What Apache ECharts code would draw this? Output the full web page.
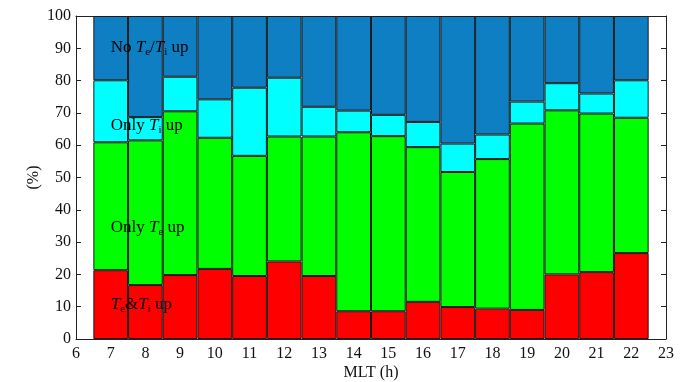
<!DOCTYPE html>
<html><head><meta charset="utf-8">
<script src="https://cdn.jsdelivr.net/npm/echarts@6/dist/echarts.min.js"></script>
<style>html,body{margin:0;padding:0;background:#fff}#c{width:691px;height:382px}</style>
</head><body><div id="c"></div>
<script>
var xTicks = ['6','7','8','9','10','11','12','13','14','15','16','17','18','19','20','21','22','23'];
var mlt = [7,8,9,10,11,12,13,14,15,16,17,18,19,20,21,22];
var bothUp  = [21.3,16.7,19.8,21.7,19.5,24.0,19.5,8.6,8.6,11.5,9.9,9.4,9.0,20.0,20.7,26.6];
var onlyTe  = [39.6,44.8,50.7,40.6,37.2,38.7,43.2,55.4,54.2,47.9,41.8,46.3,57.7,50.8,49.1,41.9];
var onlyTi  = [19.2,7.2,10.7,11.9,21.1,18.2,9.2,6.7,6.6,7.8,8.8,7.6,6.8,8.4,6.2,11.6];
var noneUp  = [19.9,31.3,18.8,25.8,22.2,19.1,28.1,29.3,30.6,32.8,39.5,36.7,26.5,20.8,24.0,19.9];

var FONT = '"Liberation Serif","Times New Roman",serif';
var chart = echarts.init(document.getElementById('c'), null, {renderer:'canvas'});
var gridL = 76, gridR = 25, gridT = 16, gridB = 43;
var unitW = (691 - gridL - gridR) / (xTicks.length - 1);

function mk(name, arr, color){
  var data = xTicks.map(function(t){
    var i = mlt.indexOf(Number(t));
    return i >= 0 ? arr[i] : '-';
  });
  return {
    name: name, type: 'bar', stack: 'all', barWidth: unitW,
    data: data,
    itemStyle: {color: color, borderColor: '#1a1a1a', borderWidth: 1},
    emphasis: {disabled: true}, animation: false
  };
}
var axisLbl = {fontFamily: FONT, fontSize: 16, color: '#111'};
chart.setOption({
  animation: false,
  grid: {left: gridL, right: gridR, top: gridT, bottom: gridB, containLabel: false, outerBoundsMode: 'none'},
  xAxis: [{
    type: 'category', data: xTicks, boundaryGap: false, position: 'bottom',
    axisLine: {show: true, onZero: false, lineStyle: {color: '#222'}},
    axisTick: {show: true, inside: true, length: 5, alignWithLabel: true, lineStyle: {color: '#222'}},
    axisLabel: Object.assign({margin: 7, interval: 0}, axisLbl),
    splitLine: {show: false},
    name: 'MLT (h)', nameLocation: 'middle', nameGap: 26, nameMoveOverlap: false,
    nameTextStyle: {fontFamily: FONT, fontSize: 16, color: '#111'}
  },{
    type: 'category', data: xTicks, boundaryGap: false, position: 'top',
    axisLine: {show: true, onZero: false, lineStyle: {color: '#222'}},
    axisTick: {show: false}, axisLabel: {show: false}, splitLine: {show: false}
  }],
  yAxis: [{
    type: 'value', min: 0, max: 100, interval: 10, position: 'left',
    axisLine: {show: true, onZero: false, lineStyle: {color: '#222'}},
    axisTick: {show: true, inside: true, length: 5, lineStyle: {color: '#222'}},
    axisLabel: Object.assign({margin: 5}, axisLbl),
    splitLine: {show: false},
    name: '(%)', nameLocation: 'middle', nameGap: 34, nameRotate: 90, nameMoveOverlap: false,
    nameTextStyle: {fontFamily: FONT, fontSize: 16, color: '#111'}
  },{
    type: 'value', min: 0, max: 100, interval: 10, position: 'right',
    axisLine: {show: true, onZero: false, lineStyle: {color: '#222'}},
    axisTick: {show: true, inside: true, length: 5, lineStyle: {color: '#222'}},
    axisLabel: {show: false}, splitLine: {show: false}
  }],
  series: [
    mk('Te&Ti up', bothUp, '#ff0000'),
    mk('Only Te up', onlyTe, '#00ff00'),
    mk('Only Ti up', onlyTi, '#00ffff'),
    mk('No Te/Ti up', noneUp, '#0f7fc4')
  ]
});

var rich = {
  n: {fontFamily: FONT, fontSize: 17, color: '#111', lineHeight: 20},
  it: {fontFamily: FONT, fontSize: 17, fontStyle: 'italic', color: '#111', lineHeight: 20},
  s: {fontFamily: FONT, fontSize: 11, color: '#111', lineHeight: 12, verticalAlign: 'bottom'}
};
var notes = [
  {t: '{n|No }{it|T}{s|e}{n|/}{it|T}{s|i}{n| up}', x: 7.0, y: 89.5},
  {t: '{n|Only }{it|T}{s|i}{n| up}', x: 6.95, y: 65.3},
  {t: '{n|Only }{it|T}{s|e}{n| up}', x: 7.0, y: 33.7},
  {t: '{it|T}{s|e}{n|&}{it|T}{s|i}{n| up}', x: 7.1, y: 9.9}
];
chart.setOption({
  graphic: notes.map(function(a){
    var p = chart.convertToPixel({xAxisIndex: 0, yAxisIndex: 0}, [a.x - 6, a.y]);
    return {type: 'text', left: p[0], top: p[1] - 11, z: 100,
      style: {text: a.t, rich: rich, verticalAlign: 'top'}};
  })
});
</script></body></html>
